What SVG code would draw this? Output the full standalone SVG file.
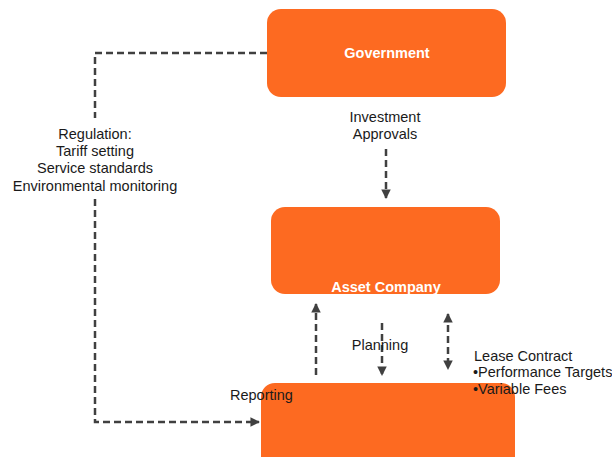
<svg xmlns="http://www.w3.org/2000/svg" width="612" height="457" viewBox="0 0 612 457">
<style>
.box{fill:#FD6A21;}
.lbl{font-family:"Liberation Sans",Arial,sans-serif;font-size:14.5px;fill:#1a1a1a;}
.nl{font-family:"Liberation Sans",Arial,sans-serif;font-size:14.5px;font-weight:bold;fill:#ffffff;text-anchor:middle;}
.c{fill:none;stroke:#404040;stroke-width:2.5;stroke-dasharray:7,4;}
</style>
<defs>
<marker id="ah" viewBox="0 0 10 10" refX="9" refY="5" markerWidth="3.8" markerHeight="3.8" orient="auto-start-reverse" markerUnits="strokeWidth">
<path d="M0,0 L10,5 L0,10 z" fill="#404040"/>
</marker>
</defs>
<rect width="612" height="457" fill="#ffffff"/>
<g id="government">
<rect class="box" x="267" y="9" width="239" height="88" rx="14"/>
<text class="nl" x="387" y="58">Government</text>
</g>
<g id="asset-company">
<rect class="box" x="271" y="207" width="229" height="87" rx="14"/>
<text class="nl" x="386" y="292">Asset Company</text>
</g>
<g id="operator">
<rect class="box" x="261" y="383" width="254" height="90" rx="14"/>
</g>
<g id="connectors">
<path class="c" d="M267,53 H95 V118"/>
<path class="c" d="M95,199 V422 H259" marker-end="url(#ah)"/>
<path class="c" d="M386,149 V198" marker-end="url(#ah)"/>
<path class="c" d="M316,375 V304" marker-end="url(#ah)"/>
<path class="c" d="M382,323 V375" marker-end="url(#ah)"/>
<path class="c" d="M448,314 V369" marker-start="url(#ah)" marker-end="url(#ah)"/>
</g>
<g id="labels">
<text class="lbl" text-anchor="middle" x="95" y="139">Regulation:</text>
<text class="lbl" text-anchor="middle" x="95" y="156">Tariff setting</text>
<text class="lbl" text-anchor="middle" x="95" y="173">Service standards</text>
<text class="lbl" text-anchor="middle" x="95" y="191">Environmental monitoring</text>
<text class="lbl" text-anchor="middle" x="385" y="122">Investment</text>
<text class="lbl" text-anchor="middle" x="385" y="139">Approvals</text>
<text class="lbl" text-anchor="middle" x="380" y="350">Planning</text>
<text class="lbl" x="230" y="400">Reporting</text>
<text class="lbl" x="474" y="361">Lease Contract</text>
<text class="lbl" x="473" y="377">•Performance Targets</text>
<text class="lbl" x="473" y="394">•Variable Fees</text>
</g>
</svg>
